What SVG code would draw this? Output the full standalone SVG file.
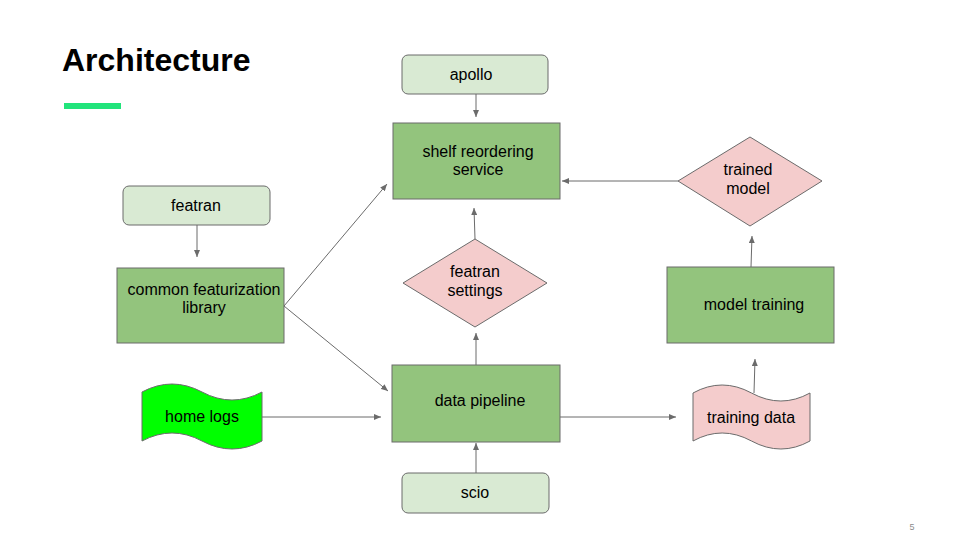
<svg xmlns="http://www.w3.org/2000/svg" width="960" height="540" viewBox="0 0 960 540">
<defs>
<style>
.t{font-family:"Liberation Sans",Arial,sans-serif;font-size:16px;fill:#000;text-anchor:middle}
.lg{fill:#d9ead3;stroke:#6b6b6b;stroke-width:1}
.g{fill:#93c47d;stroke:#6b6b6b;stroke-width:1}
.p{fill:#f4cccc;stroke:#6b6b6b;stroke-width:1}
.bg{fill:#00ff00;stroke:#6b6b6b;stroke-width:1}
.c{stroke:#6b6b6b;stroke-width:1;fill:none;marker-end:url(#ah)}
</style>
<marker id="ah" markerUnits="userSpaceOnUse" markerWidth="8" markerHeight="6" refX="7" refY="3" orient="auto">
<path d="M0,0 L7,3 L0,6 z" fill="#6b6b6b"/>
</marker>
</defs>
<rect width="960" height="540" fill="#ffffff"/>
<text x="62" y="71" style="font-family:'Liberation Sans',Arial,sans-serif;font-size:32px;font-weight:bold;fill:#000">Architecture</text>
<rect x="64" y="103" width="57" height="6" fill="#21e47b"/>
<text x="912" y="530" style="font-family:'Liberation Sans',Arial,sans-serif;font-size:9px;fill:#8c8c8c;text-anchor:middle">5</text>

<g id="connectors">
<line class="c" x1="197" y1="225" x2="197" y2="257"/>
<line class="c" x1="476" y1="94" x2="476" y2="117"/>
<line class="c" x1="284" y1="306" x2="387" y2="184"/>
<line class="c" x1="284" y1="306" x2="388" y2="391"/>
<line class="c" x1="262" y1="417" x2="381" y2="417"/>
<line class="c" x1="476" y1="365" x2="476" y2="333"/>
<line class="c" x1="475" y1="239" x2="474" y2="208"/>
<line class="c" x1="476" y1="473" x2="476" y2="443"/>
<line class="c" x1="560" y1="417" x2="676" y2="417"/>
<line class="c" x1="754" y1="393" x2="755" y2="359"/>
<line class="c" x1="751" y1="267" x2="752" y2="236"/>
<line class="c" x1="678" y1="181" x2="562" y2="181"/>
</g>

<g id="featran">
<rect class="lg" x="123" y="186" width="147" height="39" rx="6"/>
<text class="t" x="196" y="211">featran</text>
</g>
<g id="common-featurization-library">
<rect class="g" x="117" y="268" width="167" height="75"/>
<text class="t" x="204" y="295">common featurization</text>
<text class="t" x="204" y="313">library</text>
</g>
<g id="home-logs">
<path class="bg" d="M142,392 Q172,376 202,392 T262,392 L262,441 Q232,457 202,441 T142,441 Z"/>
<text class="t" x="202" y="422">home logs</text>
</g>
<g id="apollo">
<rect class="lg" x="402" y="55" width="146" height="39" rx="6"/>
<text class="t" x="471" y="80">apollo</text>
</g>
<g id="shelf-reordering-service">
<rect class="g" x="393" y="123" width="167" height="76"/>
<text class="t" x="478" y="157">shelf reordering</text>
<text class="t" x="478" y="175">service</text>
</g>
<g id="featran-settings">
<polygon class="p" points="475,239 547,283 475,327 403,283"/>
<text class="t" x="475" y="277">featran</text>
<text class="t" x="475" y="296">settings</text>
</g>
<g id="data-pipeline">
<rect class="g" x="392" y="365" width="168" height="77"/>
<text class="t" x="480" y="406">data pipeline</text>
</g>
<g id="scio">
<rect class="lg" x="402" y="473" width="147" height="40" rx="6"/>
<text class="t" x="475" y="498">scio</text>
</g>
<g id="training-data">
<path class="p" d="M693,393 Q722,377 751.5,393 T810,393 L810,441 Q781,457 751.5,441 T693,441 Z"/>
<text class="t" x="751" y="423">training data</text>
</g>
<g id="model-training">
<rect class="g" x="667" y="267" width="167" height="76"/>
<text class="t" x="754" y="310">model training</text>
</g>
<g id="trained-model">
<polygon class="p" points="750,137 822,181 750,226 678,181"/>
<text class="t" x="748" y="175">trained</text>
<text class="t" x="748" y="194">model</text>
</g>
</svg>
